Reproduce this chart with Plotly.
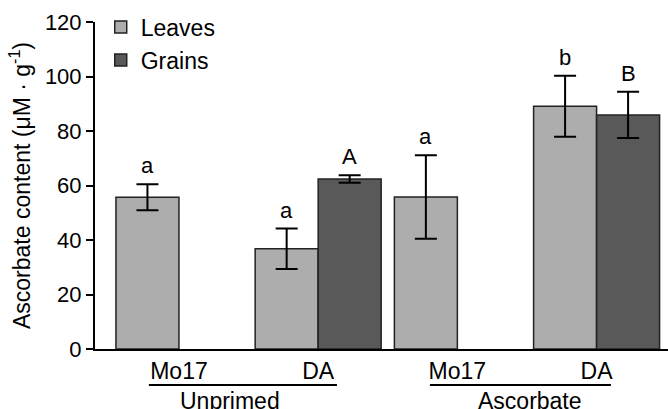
import plotly.graph_objects as go

# ---- data ----
groups = ["Unprimed", "Unprimed", "Ascorbate", "Ascorbate"]
genotypes = ["Mo17", "DA", "Mo17", "DA"]
leaves = [55.7, 36.8, 55.8, 89.1]
leaves_err = [4.8, 7.4, 15.3, 11.2]
grains = [None, 62.4, None, 85.9]
grains_err = [0, 1.4, 0, 8.5]
leaves_letters = ["a", "a", "a", "b"]
grains_letters = ["", "A", "", "B"]
series_names = ["Leaves", "Grains"]

FONT = "Liberation Sans, Arial, sans-serif"
LEAF_COLOR = "#ADADAD"
GRAIN_COLOR = "#595959"
BARGAP = 0.095

xpos = list(range(len(genotypes)))

fig = go.Figure()
fig.add_trace(go.Bar(
    x=xpos, y=leaves, name=series_names[0],
    marker=dict(color=LEAF_COLOR, line=dict(color="#222222", width=1.5)),
    error_y=dict(type="data", array=leaves_err, visible=True,
                 color="black", thickness=2, width=11),
))
fig.add_trace(go.Bar(
    x=xpos, y=grains, name=series_names[1],
    marker=dict(color=GRAIN_COLOR, line=dict(color="#222222", width=1.5)),
    error_y=dict(type="data", array=grains_err, visible=True,
                 color="black", thickness=2, width=11),
))

# significance letters
off = (1 - BARGAP) / 4
annotations = []
for i, xi in enumerate(xpos):
    if leaves[i] is not None and leaves_letters[i]:
        annotations.append(dict(x=xi - off, y=leaves[i] + leaves_err[i], xref="x", yref="y",
                                text=leaves_letters[i], showarrow=False, yanchor="bottom",
                                yshift=4, font=dict(size=22, color="black", family=FONT)))
    if grains[i] is not None and grains_letters[i]:
        annotations.append(dict(x=xi + off, y=grains[i] + grains_err[i], xref="x", yref="y",
                                text=grains_letters[i], showarrow=False, yanchor="bottom",
                                yshift=4, font=dict(size=22, color="black", family=FONT)))

# group labels and lines
group_names = []
for g in groups:
    if g not in group_names:
        group_names.append(g)
group_line_spans = [(-0.216, 1.135), (1.803, 3.103)]
group_text_x = [0.366, 2.522]
shapes = []
for gname, (x0, x1), tx in zip(group_names, group_line_spans, group_text_x):
    shapes.append(dict(type="line", xref="x", yref="paper", x0=x0, x1=x1,
                       y0=-0.11, y1=-0.11, line=dict(color="black", width=2)))
    annotations.append(dict(x=tx, y=-0.112, xref="x", yref="paper", text=gname,
                            showarrow=False, yanchor="top",
                            font=dict(size=23, color="black", family=FONT)))

fig.update_layout(
    width=668, height=409,
    margin=dict(l=95, r=0, t=22, b=60),
    paper_bgcolor="white", plot_bgcolor="white",
    barmode="group", bargap=BARGAP, bargroupgap=0,
    font=dict(family=FONT, color="black"),
    showlegend=True,
    legend=dict(x=0.01, y=1.05, xanchor="left", yanchor="top",
                font=dict(size=23, family=FONT, color="black"),
                bgcolor="rgba(0,0,0,0)", tracegroupgap=0, itemwidth=30),
    annotations=annotations,
    shapes=shapes,
    xaxis=dict(range=[-0.603, 3.513], tickvals=xpos, ticktext=genotypes,
               showline=True, linecolor="black", linewidth=2, ticks="",
               showgrid=False, zeroline=False,
               tickfont=dict(size=23, family=FONT, color="black")),
    yaxis=dict(range=[0, 120], tickvals=[0, 20, 40, 60, 80, 100, 120],
               showline=True, linecolor="black", linewidth=2,
               ticks="outside", ticklen=7, tickwidth=2, tickcolor="black",
               showgrid=False, zeroline=False,
               tickfont=dict(size=22, family=FONT, color="black"),
               title=dict(text="Ascorbate content (μM · g<sup>-1</sup>)",
                          font=dict(size=23, family=FONT, color="black"),
                          standoff=8)),
)

fig.write_html("out.html")
